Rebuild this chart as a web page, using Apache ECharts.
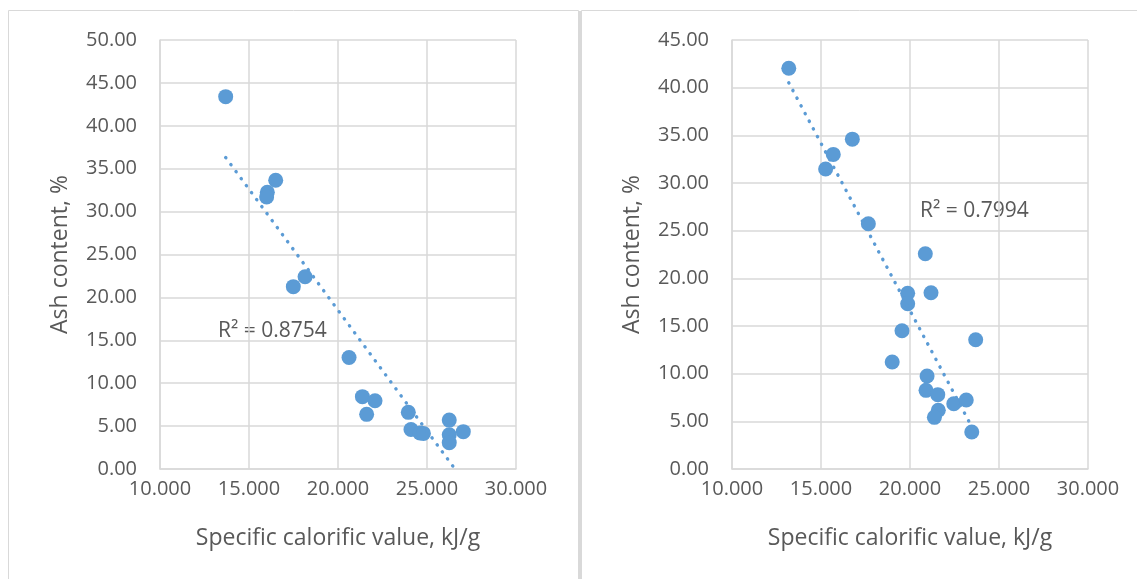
<!DOCTYPE html>
<html>
<head>
<meta charset="utf-8">
<script src="https://cdn.jsdelivr.net/npm/echarts@6/dist/echarts.min.js"></script>
<style>
html, body { margin: 0; padding: 0; background: #fff; }
#chart { width: 1137px; height: 579px; }
</style>
</head>
<body>
<div id="chart"></div>
<script>
// left panel: calorific value vs ash content
const leftX = [13.69, 16.50, 16.03, 15.99, 17.49, 18.15, 20.62, 21.37, 22.08, 21.61, 23.95, 24.10, 24.60, 24.80, 26.25, 26.25, 26.25, 27.04]
const leftY = [43.40, 33.65, 32.25, 31.70, 21.25, 22.40, 13.00, 8.43, 7.96, 6.37, 6.60, 4.60, 4.20, 4.15, 5.70, 4.00, 3.07, 4.35]
const leftTrendX = [13.69, 26.57]
const leftTrendY = [36.30, 0.00]
const leftR2 = 'R² = 0.8754'

// right panel
const rightX = [13.19, 16.76, 15.69, 15.26, 17.66, 20.86, 19.87, 21.18, 19.87, 19.55, 23.69, 19.00, 20.96, 20.90, 21.56, 22.46, 23.16, 21.59, 21.37, 23.47]
const rightY = [42.03, 34.60, 33.00, 31.47, 25.73, 22.58, 18.43, 18.49, 17.34, 14.50, 13.56, 11.22, 9.76, 8.25, 7.80, 6.85, 7.24, 6.16, 5.42, 3.88]
const rightTrendX = [13.19, 23.47]
const rightTrendY = [40.52, 4.44]
const rightR2 = 'R² = 0.7994'

const xTitle = 'Specific calorific value, kJ/g'
const yTitle = 'Ash content, %'

const pairs = (xs, ys) => xs.map((x, i) => [x, ys[i]])

const font = '"Open Sans", "Liberation Sans", sans-serif'
const textColor = '#595959'
const gridColor = '#d9d9d9'
const dotColor = '#5b9bd5'

function xAxis(idx) {
	return {
		type: 'value', gridIndex: idx, min: 10, max: 30, interval: 5,
		name: xTitle, nameLocation: 'middle', nameGap: 58, nameMoveOverlap: false,
		nameTextStyle: { color: textColor, fontSize: 23, fontFamily: font },
		axisLine: { show: true, lineStyle: { color: gridColor, width: 1.5 } },
		axisTick: { show: false },
		axisLabel: { color: textColor, fontSize: 20, fontFamily: font, margin: 10,
			formatter: (v) => v.toFixed(3) },
		splitLine: { show: true, lineStyle: { color: gridColor, width: 1.5 } },
	}
}
function yAxis(idx, max) {
	return {
		type: 'value', gridIndex: idx, min: 0, max: max, interval: 5,
		name: yTitle, nameLocation: 'middle', nameGap: 88, nameMoveOverlap: false,
		nameTextStyle: { color: textColor, fontSize: 23, fontFamily: font },
		axisLine: { show: true, lineStyle: { color: gridColor, width: 1.5 } },
		axisTick: { show: false },
		axisLabel: { color: textColor, fontSize: 20, fontFamily: font, margin: 23,
			formatter: (v) => v.toFixed(2) },
		splitLine: { show: true, lineStyle: { color: gridColor, width: 1.5 } },
	}
}
function dots(idx, xs, ys) {
	return { type: 'scatter', xAxisIndex: idx, yAxisIndex: idx, data: pairs(xs, ys),
		symbolSize: 15, itemStyle: { color: dotColor, opacity: 1 }, z: 3 }
}
function trend(idx, xs, ys) {
	return { type: 'line', xAxisIndex: idx, yAxisIndex: idx, data: pairs(xs, ys),
		symbol: 'none', z: 4,
		lineStyle: { color: dotColor, width: 3.4, type: [0.3, 8.4], cap: 'round' } }
}

const chart = echarts.init(document.getElementById('chart'))
chart.setOption({
	animation: false,
	grid: [
		{ left: 160, top: 40, width: 356, height: 429 },
		{ left: 732, top: 40, width: 356, height: 429 },
	],
	xAxis: [xAxis(0), xAxis(1)],
	yAxis: [yAxis(0, 50), yAxis(1, 45)],
	series: [
		trend(0, leftTrendX, leftTrendY),
		dots(0, leftX, leftY),
		trend(1, rightTrendX, rightTrendY),
		dots(1, rightX, rightY),
	],
	graphic: [
		// panel frames
		{ type: 'rect', shape: { x: 8.5, y: 10.5, width: 570, height: 600 },
			style: { fill: 'none', stroke: gridColor, lineWidth: 1 }, silent: true },
		{ type: 'rect', shape: { x: 581.5, y: 10.5, width: 600, height: 600 },
			style: { fill: 'none', stroke: gridColor, lineWidth: 1 }, silent: true },
		{ type: 'rect', shape: { x: 578, y: 11, width: 4, height: 600 },
			style: { fill: gridColor }, silent: true },
		{ type: 'text', left: 218, top: 321,
			style: { text: leftR2, fill: textColor, fontSize: 21, fontFamily: font } },
		{ type: 'text', left: 920, top: 201,
			style: { text: rightR2, fill: textColor, fontSize: 21, fontFamily: font } },
	],
})
</script>
</body>
</html>
